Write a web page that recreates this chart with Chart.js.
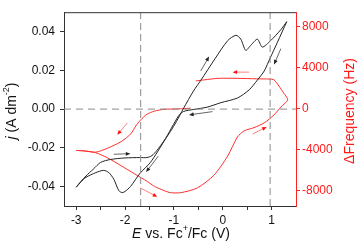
<!DOCTYPE html>
<html>
<head>
<meta charset="utf-8">
<script src="https://cdn.jsdelivr.net/npm/chart.js@4/dist/chart.umd.min.js"></script>
<style>
  html, body { margin: 0; padding: 0; background: #fff; }
</style>
</head>
<body>
<canvas id="cvChart" width="360" height="245"></canvas>
<script>
// current density loop (black), starting at the anodic vertex, cathodic sweep first
const cvE = [1.31, 1.12, 0.97, 0.85, 0.71, 0.54, 0.30, -0.04, -0.32, -0.60, -0.80, -0.90, -1.20, -1.48, -1.69, -1.89, -2.00, -2.06, -2.13, -2.23, -2.33, -2.44, -2.60, -2.80, -2.90, -3.00,
             -2.90, -2.80, -2.65, -2.50, -2.30, -2.00, -1.70, -1.55, -1.45, -1.35, -1.20, -1.07, -0.95, -0.80, -0.60, -0.45, -0.15, 0.10, 0.27, 0.37, 0.47, 0.57, 0.71, 0.81, 0.98, 1.19, 1.31];
const cvJ = [0.0451, 0.0345, 0.0263, 0.0197, 0.0150, 0.0099, 0.0057, 0.0033, 0.0010, -0.0002, -0.0012, -0.0033, -0.0165, -0.0275, -0.0330, -0.0400, -0.0425, -0.0431, -0.0420, -0.0362, -0.0328, -0.0316, -0.0328, -0.0352, -0.0375, -0.0403,
             -0.0372, -0.0345, -0.0310, -0.0275, -0.0260, -0.0252, -0.0250, -0.0250, -0.0240, -0.0214, -0.0163, -0.0115, -0.0065, 0.0005, 0.0093, 0.0148, 0.0263, 0.0353, 0.0381, 0.0361, 0.0303, 0.0328, 0.0361, 0.0320, 0.0353, 0.0410, 0.0451];

// frequency change (red)
const qcmE = [-0.66, -0.90, -1.20, -1.40, -1.55, -1.68, -1.78, -1.88, -2.00, -2.10, -2.36, -2.60, -2.84, -3.00,
              -2.80, -2.60, -2.36, -2.08, -1.81, -1.54, -1.40, -1.20, -1.07, -0.86, -0.52, -0.18, 0.10, 0.30, 0.44, 0.64, 0.85, 1.05, 1.19, 1.33,
              1.25, 1.15, 1.05, 0.95, 0.70, 0.30, -0.10, -0.38, -0.55];
const qcmF = [40, -30, -70, -250, -550, -1100, -1700, -2450, -2950, -3280, -3870, -4250, -4120, -4080,
              -4150, -4300, -4800, -5570, -6350, -7120, -7580, -8000, -8200, -8200, -7740, -6500, -4640, -2780, -2170, -1860, -1390, -620, 150, 850,
              1500, 2200, 2800, 2880, 2900, 2950, 2950, 2800, 2700];

const xTicks = [-3, -2, -1, 0, 1];
const xMinorTicks = [-2.5, -1.5, -0.5, 0.5];
const jTicks = [-0.04, -0.02, 0, 0.02, 0.04];
const fTicks = [-8000, -4000, 0, 4000, 8000];
const markerE = [-1.68, 0.97];

// sweep direction arrows [E from, value from, E to, value to]
const cvArrows = [[-0.45, 0.0197, -0.28, 0.0271], [1.19, 0.0312, 1.05, 0.0230], [-0.21, -0.0013, -0.69, -0.0030],
                  [-2.23, -0.0233, -1.89, -0.0230], [-1.32, -0.0243, -1.57, -0.0325]];
const qcmArrows = [[0.54, 3555, 0.20, 3555], [-1.95, -1390, -2.16, -2540], [-1.69, -7740, -1.34, -8600], [0.61, -2480, 0.90, -1800]];

const family = '"Liberation Sans", Arial, sans-serif';
Chart.defaults.font.family = family;
Chart.defaults.font.size = 12;

function pts(xs, ys) { return xs.map((v, i) => ({ x: v, y: ys[i] })); }

function arrow(ctx, x0, y0, x1, y1, lineCol, headCol) {
  const a = Math.atan2(y1 - y0, x1 - x0), s = 5;
  ctx.strokeStyle = lineCol; ctx.lineWidth = 1;
  ctx.beginPath(); ctx.moveTo(x0, y0); ctx.lineTo(x1 - Math.cos(a) * 3, y1 - Math.sin(a) * 3); ctx.stroke();
  ctx.fillStyle = headCol;
  ctx.beginPath();
  ctx.moveTo(x1, y1);
  ctx.lineTo(x1 - s * Math.cos(a - 0.4), y1 - s * Math.sin(a - 0.4));
  ctx.lineTo(x1 - s * Math.cos(a + 0.4), y1 - s * Math.sin(a + 0.4));
  ctx.closePath(); ctx.fill();
}

function richText(ctx, parts, cx, cy, angle, size, color) {
  ctx.save();
  ctx.translate(cx, cy); ctx.rotate(angle);
  ctx.fillStyle = color; ctx.textBaseline = 'middle'; ctx.textAlign = 'left';
  const fontOf = p => (p.it ? 'italic ' : '') + (p.sup ? Math.round(size * 0.65) : size) + 'px ' + family;
  let w = 0;
  parts.forEach(p => { ctx.font = fontOf(p); w += ctx.measureText(p.t).width; });
  let x = -w / 2;
  parts.forEach(p => {
    ctx.font = fontOf(p);
    ctx.fillText(p.t, x, p.sup ? -size * 0.38 : 0);
    x += ctx.measureText(p.t).width;
  });
  ctx.restore();
}

const decorations = {
  id: 'decorations',
  afterDatasetsDraw(chart) {
    const { ctx, chartArea: a, scales } = chart;
    ctx.save();
    ctx.strokeStyle = '#333'; ctx.lineWidth = 1;
    ctx.beginPath(); ctx.moveTo(a.left, a.top + 0.5); ctx.lineTo(a.right, a.top + 0.5); ctx.stroke();
    cvArrows.forEach(p => arrow(ctx, scales.x.getPixelForValue(p[0]), scales.y.getPixelForValue(p[1]),
      scales.x.getPixelForValue(p[2]), scales.y.getPixelForValue(p[3]), '#666', '#222'));
    qcmArrows.forEach(p => arrow(ctx, scales.x.getPixelForValue(p[0]), scales.y1.getPixelForValue(p[1]),
      scales.x.getPixelForValue(p[2]), scales.y1.getPixelForValue(p[3]), '#ff8080', '#ff1010'));
    ctx.restore();
  },
  afterDraw(chart) {
    const ctx = chart.ctx;
    richText(ctx, [{ t: 'j', it: true }, { t: ' (A dm' }, { t: '-2', sup: true }, { t: ')' }], 12, 111, -Math.PI / 2, 14, '#111');
    richText(ctx, [{ t: 'E', it: true }, { t: ' vs. Fc' }, { t: '+', sup: true }, { t: '/Fc (V)' }], 181, 234, 0, 14, '#111');
    richText(ctx, [{ t: 'ΔFrequency (Hz)' }], 350, 111, -Math.PI / 2, 14, '#ff1a1a');
  }
};

const axisGrid = col => ({ drawOnChartArea: false, drawTicks: true, tickLength: 4, tickColor: col });

new Chart(document.getElementById('cvChart'), {
  type: 'scatter',
  data: {
    datasets: [
      { data: pts([-3.25, 1.5], [0, 0]), showLine: true, borderColor: '#8a8a8a', borderWidth: 1, borderDash: [7, 5], pointRadius: 0, yAxisID: 'y' },
      { data: pts([markerE[0], markerE[0]], [-0.05, 0.05]), showLine: true, borderColor: '#8a8a8a', borderWidth: 1, borderDash: [7, 4], pointRadius: 0, yAxisID: 'y' },
      { data: pts([markerE[1], markerE[1]], [-0.05, 0.05]), showLine: true, borderColor: '#8a8a8a', borderWidth: 1, borderDash: [7, 4], pointRadius: 0, yAxisID: 'y' },
      { label: 'j', data: pts(cvE, cvJ), showLine: true, borderColor: '#222', borderWidth: 1, pointRadius: 0, tension: 0.25, yAxisID: 'y' },
      { label: 'Δf', data: pts(qcmE, qcmF), showLine: true, borderColor: '#ff2d2d', borderWidth: 1, pointRadius: 0, tension: 0.25, yAxisID: 'y1' }
    ]
  },
  options: {
    responsive: false,
    animation: false,
    layout: { padding: { top: 2, left: 0, right: 0, bottom: 0 } },
    plugins: { legend: { display: false }, tooltip: { enabled: false } },
    scales: {
      x: {
        type: 'linear', min: -3.25, max: 1.5,
        border: { display: true, color: '#333' },
        grid: axisGrid('#333'),
        afterBuildTicks: s => { s.ticks = xTicks.concat(xMinorTicks).sort((a, b) => a - b).map(v => ({ value: v })); },
        afterFit: s => { s.height = 39; },
        ticks: { color: '#111', padding: 3, autoSkip: false, maxRotation: 0, callback: v => xTicks.includes(v) ? String(v) : '' }
      },
      y: {
        type: 'linear', position: 'left', min: -0.05, max: 0.05,
        border: { display: true, color: '#333' },
        grid: axisGrid('#333'),
        afterBuildTicks: s => { s.ticks = jTicks.map(v => ({ value: v })); },
        afterFit: s => { s.width = 64; },
        ticks: { color: '#111', padding: 5, callback: v => v.toFixed(2) }
      },
      y1: {
        type: 'linear', position: 'right', min: -9500, max: 9400,
        border: { display: true, color: '#ff2020' },
        grid: axisGrid('#ff2020'),
        afterBuildTicks: s => { s.ticks = fTicks.map(v => ({ value: v })); },
        afterFit: s => { s.width = 64; },
        ticks: { color: '#ff1a1a', padding: 2, callback: v => String(v) }
      }
    }
  },
  plugins: [decorations]
});
</script>
</body>
</html>
